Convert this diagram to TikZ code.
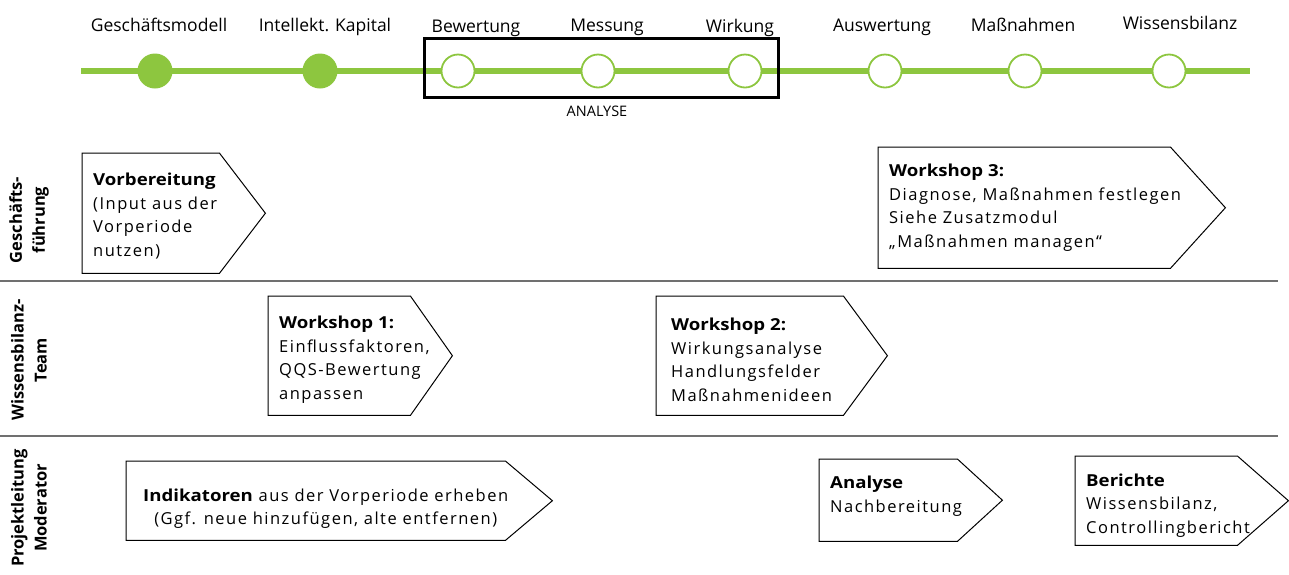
\documentclass[tikz,border=0pt]{standalone}
\usepackage{fontspec}
\setmainfont{Open Sans}
\newfontfamily\spaced[LetterSpace=9]{Open Sans}
\newfontfamily\headfont[FakeStretch=1.13]{Open Sans}
\usetikzlibrary{calc}

\definecolor{kgreen}{HTML}{8DC63F}
\definecolor{lanegray}{HTML}{707070}

\tikzset{
  milestonedone/.style={circle, fill=kgreen, minimum size=35pt, inner sep=0pt},
  milestoneopen/.style={circle, draw=kgreen, line width=1.8pt, fill=white, minimum size=33pt, inner sep=0pt},
  phase/.style={anchor=base, inner sep=0pt, font=\fontsize{17.5}{20}\selectfont},
  lane/.style={rotate=90, align=center, inner sep=0pt, font=\bfseries\fontsize{16.5}{23}\selectfont},
  lanerule/.style={draw=lanegray, line width=1.4pt},
  stagebody/.style={rectangle, anchor=north west, inner sep=0pt},
  stagetext/.style={anchor=west, xshift=11pt, align=left, inner sep=0pt, font=\spaced\fontsize{16.5}{23.5}\selectfont},
  boxline/.style={draw=black, line width=1pt, line join=miter}
}

% outline of a phase box: body plus arrow tip of length #2
\newcommand{\tipbox}[2]{%
  \draw[boxline] (#1.north west) -- (#1.north east) -- ($(#1.east)+(#2,0)$)
    -- (#1.south east) -- (#1.south west) -- cycle;}
\newcommand{\stagehead}[1]{{\headfont\bfseries #1}}

\begin{document}
\begin{tikzpicture}[x=1pt, y=-1pt]
\useasboundingbox (0,0) rectangle (1289,574);

% time line
\coordinate (tlstart) at (81,71);
\coordinate (tlend) at (1250,71);
\draw[kgreen, line width=6.5pt] (tlstart) -- (tlend);

\node[draw, line width=3pt, minimum width=354pt, minimum height=59pt, inner sep=0pt] (analysis) at (601,67.5) {};
\node[inner sep=0pt, font=\fontsize{14.5}{16}\selectfont] (analysislabel) at (597,111) {ANALYSE};

\node[milestonedone] (gm) at (155,71) {};
\node[milestonedone] (ik) at (320,71) {};
\node[milestoneopen] (bew) at (458,71) {};
\node[milestoneopen] (mes) at (598,71) {};
\node[milestoneopen] (wir) at (745,71) {};
\node[milestoneopen] (aus) at (885,71) {};
\node[milestoneopen] (mas) at (1025,71) {};
\node[milestoneopen] (wb) at (1169,71) {};

\node[phase] (gmlabel) at (159,31) {Geschäftsmodell};
\node[phase] (iklabel) at (325,31) {Intellekt. Kapital};
\node[phase] (bewlabel) at (476,32) {Bewertung};
\node[phase] (meslabel) at (607,31) {Messung};
\node[phase] (wirlabel) at (740,32) {Wirkung};
\node[phase] (auslabel) at (882,31) {Auswertung};
\node[phase] (maslabel) at (1023,31) {Maßnahmen};
\node[phase] (wblabel) at (1180,29) {Wissensbilanz};

% swim lanes
\node[lane] (gf) at (29,220) {Geschäfts-\\führung};
\node[lane] (team) at (29,360) {Wissensbilanz-\\Team};
\node[lane] (pl) at (29,508) {Projektleitung\\Moderator};
\coordinate (rule1l) at (0,281);
\coordinate (rule1r) at (1278,281);
\coordinate (rule2l) at (0,436);
\coordinate (rule2r) at (1278,436);
\draw[lanerule] (rule1l) -- (rule1r);
\draw[lanerule] (rule2l) -- (rule2r);

% Geschaeftsfuehrung
\node[stagebody, minimum width=137pt, minimum height=120pt] (prep) at (82,153) {};
\tipbox{prep}{46}
\node[stagetext, yshift=-3pt] (preptext) at (prep.west) {\stagehead{Vorbereitung}\\(Input aus der\\Vorperiode\\nutzen)};

\node[stagebody, minimum width=292pt, minimum height=121pt] (ws3) at (878,147) {};
\tipbox{ws3}{55}
\node[stagetext] (ws3text) at (ws3.west) {\stagehead{Workshop 3:}\\Diagnose, Maßnahmen festlegen\\Siehe Zusatzmodul\\„Maßnahmen managen“};

% Wissensbilanz-Team
\node[stagebody, minimum width=142pt, minimum height=119pt] (ws1) at (268,296) {};
\tipbox{ws1}{42}
\node[stagetext, yshift=-4pt] (ws1text) at (ws1.west) {\stagehead{Workshop 1:}\\Einflussfaktoren,\\QQS-Bewertung\\anpassen};

\node[stagebody, minimum width=187pt, minimum height=119pt] (ws2) at (656,296) {};
\tipbox{ws2}{44}
\node[stagetext, xshift=4pt, yshift=-4pt] (ws2text) at (ws2.west) {\stagehead{Workshop 2:}\\Wirkungsanalyse\\Handlungsfelder\\Maßnahmenideen};

% Projektleitung / Moderator
\node[stagebody, minimum width=379pt, minimum height=79pt] (ind) at (126,461) {};
\tipbox{ind}{47}
\node[stagetext, align=center, xshift=6pt, yshift=-8pt] (indtext) at (ind.west) {\stagehead{Indikatoren} aus der Vorperiode erheben\\(Ggf. neue hinzufügen, alte entfernen)};

\node[stagebody, minimum width=138pt, minimum height=82pt] (ana) at (819,459) {};
\tipbox{ana}{45}
\node[stagetext, yshift=4pt] (anatext) at (ana.west) {\stagehead{Analyse}\\Nachbereitung};

\node[stagebody, minimum width=162pt, minimum height=89pt] (rep) at (1075,456) {};
\tipbox{rep}{51}
\node[stagetext, yshift=-5pt] (reptext) at (rep.west) {\stagehead{Berichte}\\Wissensbilanz,\\Controllingbericht};
\end{tikzpicture}
\end{document}
